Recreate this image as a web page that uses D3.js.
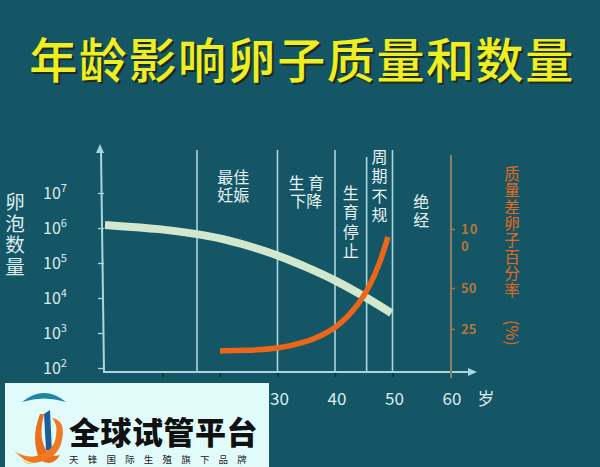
<!DOCTYPE html>
<html><head><meta charset="utf-8">
<script src="https://cdn.jsdelivr.net/npm/d3@7"></script>
<style>
html,body{margin:0;padding:0;background:#145666;}
svg{display:block;}
text{font-family:"Noto Sans CJK SC","Noto Sans",sans-serif;}
</style></head>
<body>
<svg id="chart" width="600" height="467"></svg>
<script>
// ---------- data ----------
const title = "年龄影响卵子质量和数量";
const leftTitle = ["卵","泡","数","量"];
const rightTitle = ["质","量","差","卵","子","百","分","率"];
const rightTitleTail = "(%)";
const xUnit = "岁";
const xTicks = [10, 20, 30, 40, 50, 60];
const xTickLabels = ["10", "20", "30", "40", "50", "60"];
const yExponents = [2, 3, 4, 5, 6, 7];
const rightTicks = [25, 50, 100];
const phaseBounds = [16, 30, 40, 45.5, 50];
const phaseLabels = [["最佳","妊娠"], ["生 育","下降"], ["生","育","停","止"], ["周","期","不","规"], ["绝","经"]];
// follicle count (log scale) by age
const follicleAge   = [0, 10, 16, 20, 25, 30, 35, 40, 45.3, 49.8];
const follicleCount = [1.22e6, 9.4e5, 6.7e5, 5.2e5, 3.1e5, 1.7e5, 7.7e4, 3.3e4, 1.07e4, 3.7e3];
// percentage of poor-quality eggs by age
const poorAge = [20, 25, 30, 35, 37.5, 40, 42, 44, 46, 48, 49.2];
const poorPct = [11.6, 12, 12.8, 17.1, 20.7, 25.6, 31.7, 39.6, 50.8, 73.7, 93.2];
const wmTitle = "全球试管平台";
const wmSub = "天锋国际生殖旗下品牌";

// ---------- layout ----------
const svg = d3.select("#chart");
const W = 600, H = 467;
const x = d3.scaleLinear().domain([0, 60]).range([105, 450]);
const y = d3.scaleLog().domain([1e2, 1e7]).range([368, 193]);
const yR = d3.scaleLinear().domain([25, 50, 100]).range([329, 288, 229]);
const axisY = 372;
const axisCol = "#a9d6dc";
const lightText = "#dcecec";

svg.append("rect").attr("width", W).attr("height", H).attr("fill", "#145666");

// title with shadow
const tg = svg.append("g");
tg.append("text").attr("x", 304).attr("y", 80).attr("text-anchor", "middle")
  .attr("font-size", 48).attr("font-weight", 500).attr("letter-spacing", 1.6)
  .attr("fill", "#1b2b18").text(title);
tg.append("text").attr("x", 302).attr("y", 78).attr("text-anchor", "middle")
  .attr("font-size", 48).attr("font-weight", 500).attr("letter-spacing", 1.6)
  .attr("fill", "#eeee22").text(title);

// phase separators
svg.append("g").selectAll("line").data(phaseBounds).join("line")
  .attr("x1", d => x(d)).attr("x2", d => x(d))
  .attr("y1", (d, i) => i === 3 ? 157 : 150).attr("y2", axisY)
  .attr("stroke", axisCol).attr("stroke-width", 1.6);

// phase labels
const phaseTop = [177, 183, 193, 157, 202];
const phaseCenters = [16, 30, 40, 45.5, 50, 60];
phaseLabels.forEach((rows, i) => {
  const cx = (x(phaseCenters[i]) + x(phaseCenters[i + 1])) / 2 + (i === 0 ? -4 : 0);
  rows.forEach((r, j) => {
    svg.append("text").attr("x", cx).attr("y", phaseTop[i] + j * (rows.length > 2 ? 19.5 : 18.5))
      .attr("dy", "0.36em").attr("text-anchor", "middle")
      .attr("font-size", 16).attr("fill", "#e8f2f2").attr("xml:space", "preserve")
      .text(r);
  });
});

// left y axis
const yAxis = d3.axisLeft(y).tickValues(yExponents.map(e => Math.pow(10, e)))
  .tickSize(6).tickFormat("");
const gy = svg.append("g").attr("transform", "translate(101,0)").call(yAxis);
gy.select(".domain").remove();
gy.selectAll(".tick line").attr("stroke", axisCol).attr("stroke-width", 1.3).attr("transform", "translate(3,0)");
svg.append("line").attr("x1", 101).attr("x2", 104).attr("y1", 150).attr("y2", axisY)
  .attr("stroke", axisCol).attr("stroke-width", 2);
svg.append("path").attr("d", "M100,144 L96,153 L104,153 Z").attr("fill", axisCol);

// y tick labels
const yl = svg.append("g").selectAll("text").data(yExponents).join("text")
  .attr("x", 43).attr("y", d => y(Math.pow(10, d)) + 6)
  .attr("font-family", "Open Sans, sans-serif").attr("font-size", 16).attr("fill", lightText);
yl.append("tspan").text("10");
yl.append("tspan").attr("dy", -7).attr("font-size", 11).text(d => d);

// left title
svg.append("g").selectAll("text").data(leftTitle).join("text")
  .attr("x", 15).attr("y", (d, i) => 202 + i * 21.7).attr("dy", "0.36em")
  .attr("text-anchor", "middle").attr("font-size", 19.5).attr("fill", lightText).text(d => d);

// x axis
const xAxis = d3.axisBottom(x).tickValues(xTicks).tickSize(5).tickFormat("");
const gx = svg.append("g").attr("transform", `translate(0,${axisY})`).call(xAxis);
gx.select(".domain").remove();
gx.selectAll(".tick line").attr("stroke", "#0b2f38").attr("stroke-width", 1.5);
svg.append("line").attr("x1", 103).attr("x2", 470).attr("y1", axisY).attr("y2", axisY)
  .attr("stroke", axisCol).attr("stroke-width", 2);
svg.append("path").attr("d", `M477,${axisY} L468,${axisY - 4} L468,${axisY + 4} Z`).attr("fill", axisCol);
svg.append("g").selectAll("text").data(xTicks).join("text")
  .attr("x", d => x(d) + 2).attr("y", 399).attr("dy", "0.36em").attr("text-anchor", "middle")
  .attr("font-family", "Open Sans, sans-serif").attr("font-size", 17).attr("fill", lightText)
  .text((d, i) => xTickLabels[i]);
svg.append("text").attr("x", 486).attr("y", 399).attr("dy", "0.36em").attr("text-anchor", "middle")
  .attr("font-size", 17).attr("fill", lightText).text(xUnit);

// right axis
const rCol = "#8d7d62";
svg.append("line").attr("x1", x(60)+1).attr("x2", x(60)+1).attr("y1", 155).attr("y2", 378)
  .attr("stroke", rCol).attr("stroke-width", 2);
const yRAxis = d3.axisRight(yR).tickValues(rightTicks).tickSize(4).tickFormat("");
const gr = svg.append("g").attr("transform", `translate(${x(60) + 1},0)`).call(yRAxis);
gr.select(".domain").remove();
gr.selectAll(".tick line").attr("stroke", "#b07840").attr("stroke-width", 1.5);
const rl = svg.append("g").selectAll("text").data(rightTicks).join("text")
  .attr("x", 461).attr("y", d => yR(d)).attr("dy", "0.36em")
  .attr("font-family", "Open Sans, sans-serif").attr("font-size", 13).attr("font-weight", 600)
  .attr("fill", "#b4763a");
rl.each(function(d) {
  const s = String(d), t = d3.select(this);
  if (s.length > 2) {
    t.append("tspan").attr("letter-spacing", 1).text(s.slice(0, 2));
    t.append("tspan").attr("x", 461).attr("dy", 17).text(s.slice(2));
  } else t.text(s);
});

// right title
const rtCol = "#e36a1c";
svg.append("g").selectAll("text").data(rightTitle).join("text")
  .attr("x", 512).attr("y", (d, i) => 174 + i * 16.6).attr("dy", "0.36em")
  .attr("text-anchor", "middle").attr("font-size", 15.5).attr("fill", rtCol).text(d => d);
svg.append("text").attr("transform", "translate(512,320) rotate(90)")
  .attr("dy", "0.36em").attr("font-size", 16).attr("fill", rtCol).text(rightTitleTail);

// follicle curve
const follLine = d3.line().x(d => x(d[0])).y(d => y(d[1])).curve(d3.curveBasis);
svg.append("path").datum(d3.zip(follicleAge, follicleCount))
  .attr("d", follLine).attr("fill", "none").attr("stroke", "#d2e8cd").attr("stroke-width", 8);

// poor quality curve
const poorLine = d3.line().x(d => x(d[0])).y(d => yR(d[1])).curve(d3.curveBasis);
svg.append("path").datum(d3.zip(poorAge, poorPct))
  .attr("d", poorLine).attr("fill", "none").attr("stroke", "#ec6619").attr("stroke-width", 5.5)
  .attr("stroke-linecap", "butt");

// watermark box
const wm = svg.append("g");
wm.append("rect").attr("x", 5).attr("y", 383).attr("width", 264).attr("height", 90).attr("fill", "#e1fbfb");
wm.append("path").attr("d", "M22,402 Q44,384 66,402 Q44,395 22,402 Z").attr("fill", "#1e86a6");
wm.append("path").attr("d", "M40,414 Q30,440 40,460 Q52,468 60,455 Q52,458 46,450 Q38,436 44,414 Z").attr("fill", "#ea6f1c");
wm.append("path").attr("d", "M44,414 L50,410 L52,452 L46,450 Z").attr("fill", "#1c5e9a");
wm.append("path").attr("d", "M52,418 Q66,420 62,440 Q58,460 34,463 Q24,462 16,452 Q26,458 36,456 Q54,452 56,436 Q58,424 52,418 Z").attr("fill", "#ef7a22");
wm.append("path").attr("d", "M14,448 Q18,462 34,464 Q22,466 14,448 Z").attr("fill", "#e8d020");
wm.append("text").attr("x", 69).attr("y", 444).attr("font-size", 31).attr("font-weight", 900)
  .attr("letter-spacing", 0.5).attr("fill", "#111").text(wmTitle);
wm.append("text").attr("x", 69).attr("y", 463).attr("font-size", 9.5)
  .attr("letter-spacing", 9.2).attr("fill", "#222").text(wmSub);
</script>
</body></html>
